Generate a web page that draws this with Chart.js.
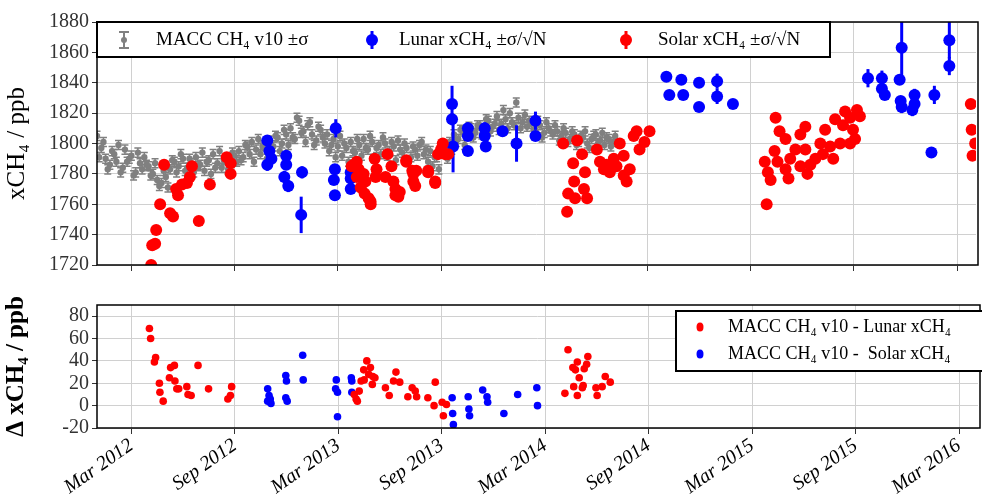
<!DOCTYPE html>
<html>
<head>
<meta charset="utf-8">
<script src="https://cdn.jsdelivr.net/npm/chart.js@4"></script>
<style>
  body { margin: 0; background: #fff; }
  #top { width: 982px; height: 280px; }
  #bot { width: 982px; height: 219px; }
</style>
</head>
<body>
<div id="top"><canvas id="topChart"></canvas></div>
<div id="bot"><canvas id="botChart"></canvas></div>
<script>
// x values are months since 1 Jan 2012
const tickMonths = [2, 8, 14, 20, 26, 32, 38, 44, 50];
const tickLabels = ["Mar 2012", "Sep 2012", "Mar 2013", "Sep 2013", "Mar 2014",
  "Sep 2014", "Mar 2015", "Sep 2015", "Mar 2016"];

// MACC CH4 v10, one value every 0.25 month starting at month 0
const maccStep = 0.25;
const maccValues = [
  1805, 1797, 1790, 1786, 1793, 1799, 1784, 1788, 1792, 1781, 1787,
  1791, 1785, 1780, 1776, 1774, 1778, 1783, 1788, 1785, 1790,
  1784, 1787, 1791, 1786, 1782, 1789, 1793, 1787, 1784, 1790, 1786, 1792,
  1795, 1791, 1798, 1801, 1796, 1793, 1799, 1802,
  1798, 1804, 1800, 1806,
  1810, 1803, 1815, 1808, 1812, 1806, 1802, 1809,
  1800, 1795, 1803, 1798, 1792, 1797, 1801, 1794,
  1799, 1803, 1796, 1801, 1797, 1793, 1800, 1795, 1798, 1802, 1794, 1797, 1791, 1796, 1799, 1793,
  1788, 1785, 1791, 1794, 1797,
  1801, 1806, 1803, 1808, 1805, 1810, 1807,
  1812, 1809, 1815, 1811, 1818, 1813, 1816, 1820, 1812, 1817, 1814, 1811,
  1813, 1809, 1812, 1807, 1810, 1806, 1808, 1805,
  1807, 1803, 1806, 1801, 1804, 1800, 1803, 1806, 1802, 1799, 1803, 1801
];
// second MACC sample set, offset by half a step
const maccValues2 = [
  1791, 1801, 1783, 1795, 1788, 1781, 1796, 1790, 1779, 1794, 1783,
  1786, 1779, 1787, 1772, 1782, 1771, 1789, 1781, 1793, 1782,
  1790, 1781, 1785, 1794, 1788, 1780, 1784, 1795, 1789, 1783, 1794, 1788,
  1789, 1799, 1793, 1788, 1803, 1798, 1790, 1796,
  1805, 1795, 1809, 1799,
  1804, 1817, 1807, 1801, 1814, 1799, 1811, 1804,
  1806, 1799, 1791, 1805, 1800, 1788, 1795, 1803,
  1792, 1797, 1805, 1790, 1799, 1804, 1792, 1801, 1789, 1796, 1800, 1788, 1798, 1792, 1801, 1796,
  1795, 1791, 1783, 1799, 1790,
  1796, 1801, 1809, 1799, 1811, 1804, 1812,
  1806, 1816, 1808, 1813, 1809, 1822, 1810, 1814, 1827, 1810, 1819, 1815,
  1809, 1815, 1804, 1814, 1808, 1812, 1802, 1810,
  1801, 1808, 1799, 1805, 1808, 1797, 1805, 1800, 1807, 1804, 1798, 1805
];
const maccSigma = 3;

// [month, xCH4, sigma/sqrt(N)]
const lunarTop = [
  [9.9, 1802, 3], [10.02, 1795, 4], [9.9, 1786, 4], [10.14, 1790, 3],
  [11.0, 1792, 3], [11.0, 1786, 3], [10.89, 1778, 4], [11.12, 1772, 4],
  [11.92, 1781, 4], [11.87, 1753, 12], [13.88, 1810, 6], [13.83, 1783, 3],
  [13.77, 1776, 3], [13.83, 1766, 3], [14.75, 1781, 5], [14.75, 1777, 3],
  [14.75, 1770, 3], [20.64, 1816, 4], [20.64, 1826, 12], [20.7, 1798, 17],
  [21.56, 1810, 4], [21.56, 1805, 3], [21.56, 1795, 3], [22.54, 1810, 4],
  [22.54, 1805, 3], [22.6, 1798, 3], [23.58, 1808, 3], [24.39, 1800, 12],
  [25.49, 1815, 6], [25.49, 1805, 3],
  [33.1, 1844, 2], [33.27, 1832, 2], [33.97, 1842, 2], [34.08, 1832, 2],
  [35.0, 1840, 2], [35.0, 1824, 2], [36.05, 1841, 5], [36.05, 1831, 5],
  [36.97, 1826, 2], [44.82, 1843, 6], [45.63, 1843, 5], [45.63, 1836, 3],
  [45.8, 1832, 3], [46.78, 1863, 22], [46.66, 1842, 3], [46.72, 1828, 3],
  [46.78, 1824, 4], [47.53, 1832, 4], [47.4, 1822, 4], [47.53, 1826, 3],
  [48.68, 1832, 6], [48.51, 1794, 3], [49.55, 1868, 12], [49.55, 1851, 6]
];

const solarTop = [
  [3.15, 1720], [3.21, 1733], [3.38, 1734], [3.44, 1743], [3.67, 1760],
  [3.9, 1786], [4.25, 1754], [4.42, 1752], [4.6, 1770], [4.71, 1766],
  [4.94, 1773], [5.23, 1774], [5.4, 1778], [5.52, 1785], [5.92, 1749],
  [6.56, 1773], [7.54, 1791], [7.77, 1787], [7.77, 1780],
  [14.93, 1786], [15.1, 1778], [15.21, 1783], [15.33, 1771], [15.5, 1780],
  [15.56, 1767], [15.79, 1764], [15.91, 1760], [16.14, 1790], [16.25, 1783],
  [16.77, 1778], [16.89, 1793], [17.12, 1785], [17.23, 1775], [17.35, 1770],
  [17.52, 1765], [17.98, 1788], [18.33, 1782], [18.39, 1775], [18.56, 1782],
  [19.25, 1782], [19.66, 1775], [19.83, 1793], [20.0, 1796], [20.23, 1793],
  [20.41, 1793], [14.8, 1785], [15.1, 1788], [15.4, 1780], [15.6, 1775],
  [15.9, 1762], [16.2, 1778], [17.35, 1766], [17.6, 1768], [17.98, 1789],
  [18.39, 1780], [18.5, 1772], [19.25, 1781], [19.66, 1774], [20.1, 1800],
  [27.1, 1800], [27.91, 1802], [27.68, 1787], [28.2, 1793], [28.37, 1781],
  [27.74, 1775], [27.39, 1767], [27.33, 1755], [27.79, 1764], [28.49, 1764],
  [28.31, 1770], [29.06, 1796], [29.24, 1788], [29.47, 1783], [29.81, 1781],
  [30.04, 1790], [30.39, 1800], [30.62, 1792], [30.79, 1775], [30.97, 1783],
  [31.2, 1805], [31.37, 1808], [31.54, 1796], [31.83, 1801], [32.12, 1808],
  [30.62, 1779], [29.6, 1786], [30.2, 1785],
  [38.93, 1760], [38.82, 1788], [39.16, 1776], [39.56, 1788], [39.39, 1795],
  [39.45, 1817], [39.68, 1808], [40.03, 1783], [40.2, 1777], [40.03, 1803],
  [40.6, 1796], [40.89, 1806], [41.18, 1796], [41.47, 1786], [41.18, 1811],
  [41.76, 1790], [42.05, 1800], [42.33, 1809], [42.62, 1798], [42.91, 1816],
  [43.2, 1800], [43.49, 1821], [43.78, 1817], [43.95, 1809], [44.07, 1803],
  [44.35, 1818], [44.18, 1822], [40.3, 1790], [40.89, 1785], [41.3, 1780],
  [42.2, 1793], [42.8, 1790], [43.37, 1812], [43.78, 1800], [39.0, 1781],
  [50.8, 1826], [50.85, 1809], [50.9, 1792], [51.05, 1800]
];

// bottom panel differences [month, ppb]
const diffRed = [
  [3.04, 69], [3.11, 60], [3.33, 39], [3.40, 43], [3.62, 20], [3.65, 12],
  [3.84, 4], [4.2, 25], [4.27, 34], [4.49, 36], [4.52, 22], [4.63, 15],
  [4.74, 15], [5.21, 17], [5.28, 10], [5.46, 9], [5.86, 36], [6.47, 15],
  [7.59, 6], [7.74, 9], [7.81, 17],
  [14.92, 10], [15.03, 6], [15.21, 13], [15.32, 22], [15.47, 32], [15.65, 40],
  [15.76, 28], [15.86, 34], [15.97, 19], [16.12, 25], [16.73, 16], [16.95, 9],
  [17.2, 22], [17.34, 30], [17.56, 21], [18.03, 8], [18.28, 16], [18.46, 13],
  [18.54, 8], [19.19, 7], [19.62, 21], [19.55, 0], [20.02, 3], [20.09, -9],
  [20.27, 1], [15.1, 4], [15.5, 23], [16.0, 26],
  [27.14, 11], [27.32, 50], [27.6, 34], [27.75, 32], [27.86, 39], [27.97, 25],
  [27.86, 9], [28.15, 16], [28.26, 33], [28.4, 37], [28.47, 44], [28.94, 16],
  [29.01, 9], [29.3, 17], [29.48, 26], [29.77, 21], [28.2, 18], [27.65, 17]
];
const diffBlue = [
  [9.9, 15], [9.9, 4], [9.98, 9], [10.05, 6], [10.09, 2], [10.95, 27],
  [10.99, 22], [10.95, 7], [11.03, 4], [11.93, 45], [11.96, 23],
  [13.88, 23], [13.84, 15], [13.95, 12], [13.95, -10], [14.75, 25],
  [14.78, 22], [14.78, 12], [20.6, 7], [20.63, -7], [20.67, -17],
  [21.53, 8], [21.57, -3], [21.61, -9], [22.37, 14], [22.62, 8],
  [22.66, 3], [23.6, -7], [24.4, 10], [25.51, 16], [25.55, 0]
];

const RED = "#ff0000", BLUE = "#0000ff", GRAY = "#808080";
const SERIF = "'Liberation Serif', 'DejaVu Serif', serif";

const maccPts = maccValues.map((v, i) => ({ x: i * maccStep, y: v, e: maccSigma }))
  .concat(maccValues2.map((v, i) => ({ x: (i + 0.5) * maccStep, y: v, e: maccSigma })));
const lunarPts = lunarTop.map((d) => ({ x: d[0], y: d[1], e: d[2] }));
const solarPts = solarTop.map((d) => ({ x: d[0], y: d[1] }));

// error bars drawn through the chart scales
const errorBars = {
  id: "errorBars",
  beforeDatasetDraw(chart, args) {
    const ds = chart.data.datasets[args.index];
    if (!ds.errorBars) return;
    const { ctx, scales, chartArea } = chart;
    ctx.save();
    ctx.beginPath();
    ctx.rect(chartArea.left, chartArea.top, chartArea.width, chartArea.height);
    ctx.clip();
    ctx.strokeStyle = ds.backgroundColor;
    ctx.lineWidth = ds.errorWidth;
    ds.data.forEach((p) => {
      const x = scales.x.getPixelForValue(p.x);
      const y1 = scales.y.getPixelForValue(p.y - p.e);
      const y2 = scales.y.getPixelForValue(p.y + p.e);
      ctx.beginPath();
      ctx.moveTo(x, y1);
      ctx.lineTo(x, y2);
      if (ds.errorCap) {
        ctx.moveTo(x - ds.errorCap, y1); ctx.lineTo(x + ds.errorCap, y1);
        ctx.moveTo(x - ds.errorCap, y2); ctx.lineTo(x + ds.errorCap, y2);
      }
      ctx.stroke();
    });
    ctx.restore();
  }
};

function frame(chart) {
  const { ctx, chartArea: a } = chart;
  ctx.save();
  ctx.strokeStyle = "#000";
  ctx.lineWidth = 1.5;
  ctx.strokeRect(a.left, a.top, a.width + 2, a.height);
  ctx.restore();
}

const topLegend = {
  id: "topLegend",
  afterDraw(chart) {
    const { ctx, chartArea: a } = chart;
    frame(chart);
    ctx.save();
    ctx.fillStyle = "#fff";
    ctx.fillRect(a.left, a.top, 733, 35);
    ctx.strokeStyle = "#000";
    ctx.lineWidth = 2;
    ctx.strokeRect(a.left, a.top, 733, 35);
    const cy = a.top + 18;
    ctx.strokeStyle = GRAY; ctx.lineWidth = 2;
    ctx.beginPath();
    ctx.moveTo(124, cy - 8); ctx.lineTo(124, cy + 8);
    ctx.moveTo(119, cy - 8); ctx.lineTo(129, cy - 8);
    ctx.moveTo(119, cy + 8); ctx.lineTo(129, cy + 8);
    ctx.stroke();
    ctx.fillStyle = GRAY;
    ctx.beginPath(); ctx.arc(124, cy, 3, 0, 2 * Math.PI); ctx.fill();
    [[372, BLUE], [626, RED]].forEach(([x, c]) => {
      ctx.fillStyle = c; ctx.strokeStyle = c; ctx.lineWidth = 3;
      ctx.beginPath(); ctx.moveTo(x, cy - 9); ctx.lineTo(x, cy + 9); ctx.stroke();
      ctx.beginPath(); ctx.arc(x, cy, 6, 0, 2 * Math.PI); ctx.fill();
    });
    ctx.fillStyle = "#000";
    ctx.font = "19px " + SERIF;
    ctx.textBaseline = "middle";
    ctx.fillText("MACC CH₄ v10 ±σ", 156, cy);
    ctx.fillText("Lunar xCH₄ ±σ/√N", 399, cy);
    ctx.fillText("Solar xCH₄ ±σ/√N", 658, cy);
    ctx.restore();
  }
};

const botLegend = {
  id: "botLegend",
  afterDraw(chart) {
    const { ctx, chartArea: a } = chart;
    frame(chart);
    ctx.save();
    ctx.fillStyle = "#fff";
    ctx.fillRect(676, a.top + 6, 320, 60);
    ctx.strokeStyle = "#000";
    ctx.lineWidth = 2;
    ctx.strokeRect(676, a.top + 6, 320, 60);
    ctx.fillStyle = RED;
    ctx.beginPath(); ctx.ellipse(700, a.top + 22, 3.5, 4.5, 0, 0, 2 * Math.PI); ctx.fill();
    ctx.fillStyle = BLUE;
    ctx.beginPath(); ctx.ellipse(700, a.top + 49, 3.5, 4.5, 0, 0, 2 * Math.PI); ctx.fill();
    ctx.fillStyle = "#000";
    ctx.font = "18px " + SERIF;
    ctx.textBaseline = "middle";
    ctx.fillText("MACC CH₄ v10 - Lunar xCH₄", 728, a.top + 22);
    ctx.fillText("MACC CH₄ v10 -  Solar xCH₄", 728, a.top + 49);
    ctx.restore();
  }
};

function xScale(showLabels) {
  return {
    type: "linear",
    min: 0,
    max: 51.1,
    afterBuildTicks(s) { s.ticks = tickMonths.map((v) => ({ value: v })); },
    afterFit(s) { if (showLabels) s.height = 71; },
    grid: { color: "#d0d0d0", drawTicks: true, tickLength: 6, tickColor: "#333" },
    border: { display: false },
    ticks: {
      display: showLabels,
      autoSkip: false,
      maxRotation: 35,
      minRotation: 35,
      padding: 0,
      color: "#000",
      font: { family: SERIF, size: 20, style: "italic" },
      callback: (v) => tickLabels[tickMonths.indexOf(v)]
    }
  };
}

function yScale(min, max, title, bold) {
  return {
    min: min,
    max: max,
    afterFit(s) { s.width = 97; },
    afterBuildTicks(s) {
      const t = [];
      for (let v = min; v <= max; v += 20) t.push({ value: v });
      s.ticks = t;
    },
    grid: { color: "#d0d0d0", tickLength: 5, tickColor: "#333" },
    border: { display: false },
    title: {
      display: true, text: title, color: "#000", padding: 2,
      font: { family: SERIF, size: 25, weight: bold ? "bold" : "normal" }
    },
    ticks: {
      color: "#333", padding: 3, autoSkip: false,
      font: { family: SERIF, size: 20 },
      callback: (v) => String(v)
    }
  };
}

new Chart(document.getElementById("topChart"), {
  type: "scatter",
  data: {
    datasets: [
      {
        label: "MACC", data: maccPts, backgroundColor: GRAY, borderWidth: 0, order: 3,
        pointRadius: 3.2, errorBars: true, errorWidth: 1.5, errorCap: 3.5
      },
      {
        label: "Lunar", data: lunarPts, backgroundColor: BLUE, borderWidth: 0, order: 2,
        pointRadius: 6, errorBars: true, errorWidth: 3
      },
      {
        label: "Solar", data: solarPts, backgroundColor: RED, borderWidth: 0, order: 1,
        pointRadius: 6
      }
    ]
  },
  options: {
    responsive: true, maintainAspectRatio: false, animation: false,
    layout: { padding: { top: 22, right: 0, bottom: 4 } },
    plugins: { legend: { display: false }, tooltip: { enabled: false } },
    scales: { x: xScale(false), y: yScale(1720, 1880, "xCH₄ / ppb", false) }
  },
  plugins: [errorBars, topLegend]
});

new Chart(document.getElementById("botChart"), {
  type: "scatter",
  data: {
    datasets: [
      { label: "red", data: diffRed, backgroundColor: RED, borderWidth: 0, pointRadius: 3.8 },
      { label: "blue", data: diffBlue, backgroundColor: BLUE, borderWidth: 0, pointRadius: 3.8 }
    ].map((d) => ({ ...d, data: d.data.map((p) => ({ x: p[0], y: p[1] })) }))
  },
  options: {
    responsive: true, maintainAspectRatio: false, animation: false,
    layout: { padding: { top: 25, right: 0, bottom: 0 } },
    plugins: { legend: { display: false }, tooltip: { enabled: false } },
    scales: { x: xScale(true), y: yScale(-20, 90, "Δ xCH₄ / ppb", true) }
  },
  plugins: [botLegend]
});
</script>
</body>
</html>
